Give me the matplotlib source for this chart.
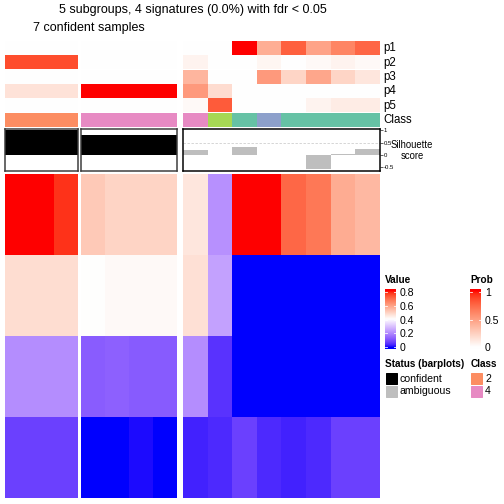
import numpy as np
import matplotlib
matplotlib.use('Agg')
import matplotlib.pyplot as plt
from matplotlib.colors import ListedColormap, Normalize, to_rgb
from matplotlib.patches import Rectangle

plt.rcParams['font.family'] = ['Liberation Sans', 'DejaVu Sans']

W = H = 504

# ---- data ----
group_sizes = [3, 4, 8]

# signature values (4 rows x 15 samples)
sig1 = [0.85, 0.85, 0.77, 0.51, 0.49, 0.49, 0.49, 0.45, 0.21, 0.85, 0.85, 0.70, 0.67, 0.57, 0.545]
sig2 = [0.47, 0.47, 0.47, 0.401, 0.41, 0.41, 0.41, 0.465, 0.24, 0.0, 0.0, 0.0, 0.0, 0.0, 0.0]
sig3 = [0.205, 0.205, 0.205, 0.12, 0.125, 0.118, 0.118, 0.205, 0.05, 0.0, 0.0, 0.0, 0.0, 0.0, 0.0]
sig4 = [0.075, 0.075, 0.075, 0.0, 0.0, 0.008, 0.0, 0.03, 0.038, 0.075, 0.038, 0.03, 0.04, 0.075, 0.075]

prob_names = ['p1', 'p2', 'p3', 'p4', 'p5']
p1 = [0, 0, 0, 0, 0, 0, 0, 0, 0, 1.0, 0.42, 0.78, 0.47, 0.62, 0.75]
p2 = [0.85, 0.85, 0.85, 0, 0, 0, 0, 0.06, 0, 0, 0.05, 0, 0.03, 0.06, 0.03]
p3 = [0, 0, 0, 0, 0, 0, 0, 0.38, 0, 0, 0.52, 0.22, 0.46, 0.22, 0.13]
p4 = [0.15, 0.15, 0.15, 1, 1, 1, 1, 0.52, 0.18, 0, 0, 0, 0, 0, 0]
p5 = [0, 0, 0, 0, 0, 0, 0, 0.03, 0.8, 0, 0, 0, 0.06, 0.1, 0.1]

classes = ['2', '2', '2', '4', '4', '4', '4', '4', '5', '1', '3', '1', '1', '1', '1']
class_colors = {'1': '#66C2A5', '2': '#FC8D62', '3': '#8DA0CB', '4': '#E78AC3', '5': '#A6D854'}

silhouette = [1.0, 1.0, 1.0, 0.82, 0.82, 0.82, 0.82, 0.2, 0.0, 0.32, 0.0, -0.015, -0.55, 0.03, 0.24]
confident = [True] * 7 + [False] * 8

title = '5 subgroups, 4 signatures (0.0%) with fdr < 0.05'
subtitle = '7 confident samples'


# ---- colour ramps interpolated in LAB like colorRamp2 ----
M = np.array([[0.4124, 0.3576, 0.1805],
              [0.2126, 0.7152, 0.0722],
              [0.0193, 0.1192, 0.9505]])
WHITE = np.array([0.95047, 1.0, 1.08883])


def to_lab(c):
    rgb = np.array(to_rgb(c))
    lin = np.where(rgb <= 0.04045, rgb / 12.92, ((rgb + 0.055) / 1.055) ** 2.4)
    xyz = M @ lin / WHITE
    f = np.where(xyz > 0.008856, np.cbrt(xyz), 7.787 * xyz + 16 / 116)
    return np.array([116 * f[1] - 16, 500 * (f[0] - f[1]), 200 * (f[1] - f[2])])


def from_lab(lab):
    fy = (lab[:, 0] + 16) / 116
    fx = fy + lab[:, 1] / 500
    fz = fy - lab[:, 2] / 200
    f = np.stack([fx, fy, fz], -1)
    xyz = np.where(f ** 3 > 0.008856, f ** 3, (f - 16 / 116) / 7.787) * WHITE
    lin = np.clip(xyz @ np.linalg.inv(M).T, 0, 1)
    rgb = np.where(lin <= 0.0031308, 12.92 * lin, 1.055 * lin ** (1 / 2.4) - 0.055)
    return np.clip(rgb, 0, 1)


def lab_cmap(stops, colors, n=256):
    t = np.linspace(0, 1, n)
    labs = np.array([to_lab(c) for c in colors])
    out = np.stack([np.interp(t, stops, labs[:, k]) for k in range(3)], -1)
    return ListedColormap(from_lab(out))


value_cmap = lab_cmap([0, 0.5, 1], ['blue', 'white', 'red'])
value_norm = Normalize(0, 0.8)
prob_cmap = lab_cmap([0, 1], ['white', 'red'])
prob_norm = Normalize(0, 1)

values = np.array([sig1, sig2, sig3, sig4])
probs = np.array([p1, p2, p3, p4, p5])
sil = np.array(silhouette)

fig = plt.figure(figsize=(W / 72, H / 72), dpi=72)


def add_ax(x0, y0, x1, y1):
    return fig.add_axes([x0 / W, 1 - y1 / H, (x1 - x0) / W, (y1 - y0) / H])


group_x = [(5, 78), (81, 177), (183, 380)]
starts = np.cumsum([0] + group_sizes)

row_top = 41.3
row_pitch = 14.35
row_h = 13.8

for g, (x0, x1) in enumerate(group_x):
    sl = slice(starts[g], starts[g + 1])
    n = group_sizes[g]

    # main heatmap
    ax = add_ax(x0, 174, x1, 498)
    ax.imshow(values[:, sl], cmap=value_cmap, norm=value_norm, aspect='auto',
              interpolation='nearest')
    ax.axis('off')

    # probability rows + class row
    ax = add_ax(x0, row_top, x1, row_top + 5 * row_pitch + row_h)
    ax.set_xlim(0, n)
    ax.set_ylim(row_top + 5 * row_pitch + row_h, row_top)
    for i in range(5):
        top = row_top + i * row_pitch
        ax.imshow(probs[i:i + 1, sl], cmap=prob_cmap, norm=prob_norm,
                  extent=(0, n, top + row_h, top), aspect='auto', interpolation='nearest')
    top = row_top + 5 * row_pitch
    crgb = np.array([[to_rgb(class_colors[c]) for c in classes[sl]]])
    ax.imshow(crgb, extent=(0, n, top + row_h, top), aspect='auto', interpolation='nearest')
    ax.axis('off')

    # silhouette barplot
    ax = add_ax(x0, 128.5, x1, 170.5)
    cols = ['black' if c else '#BEBEBE' for c in confident[sl]]
    ax.axhline(0.5, color='#CCCCCC', lw=0.8, ls=(0, (3, 2)), zorder=0)
    ax.bar(np.arange(n) + 0.5, sil[sl], width=1, color=cols, zorder=1)
    ax.set_xlim(0, n)
    ax.set_ylim(-0.63, 1.07)
    ax.set_xticks([])
    for s in ax.spines.values():
        s.set_linewidth(1.5)
        s.set_color('#3a3a3a' if g < 2 else 'black')
    if g == 2:
        ax.yaxis.tick_right()
        ax.set_yticks([-0.5, 0, 0.5, 1])
        ax.set_yticklabels(['-0.5', '0', '0.5', '1'])
        ax.tick_params(axis='y', length=2.5, width=0.6, pad=1.5, labelsize=6)
    else:
        ax.set_yticks([])

# row labels
for i, name in enumerate(prob_names + ['Class']):
    fig.text(383 / W, 1 - (row_top + i * row_pitch + row_h / 2) / H, name,
             ha='left', va='center', fontsize=11.5)
fig.text(412 / W, 1 - 145 / H, 'Silhouette', ha='center', va='center', fontsize=9.5)
fig.text(412 / W, 1 - 156 / H, 'score', ha='center', va='center', fontsize=9.5)

# titles
fig.text(192.5 / W, 1 - 10 / H, title, ha='center', va='center', fontsize=12.5)
fig.text(33 / W, 1 - 28 / H, subtitle, ha='left', va='center', fontsize=12.5)


# colour bar legends
def color_legend(x0, lo, hi, ticks, labels, cmap, norm, name):
    cax = add_ax(x0, 289, x0 + 11, 349)
    grad = np.linspace(lo, hi, 200)[:, None]
    cax.imshow(grad, cmap=cmap, norm=norm, extent=(0, 1, lo, hi), origin='lower',
               aspect='auto', interpolation='bilinear')
    cax.set_xlim(0, 1)
    cax.set_ylim(lo, hi)
    for v in ticks:
        cax.plot([0, 0.2], [v, v], color='white', lw=0.8)
        cax.plot([0.8, 1], [v, v], color='white', lw=0.8)
    cax.set_xticks([])
    cax.yaxis.tick_right()
    cax.set_yticks(ticks)
    cax.set_yticklabels(labels)
    cax.tick_params(axis='y', length=0, pad=4, labelsize=10.5)
    for s in cax.spines.values():
        s.set_visible(False)
    fig.text(x0 / W, 1 - 280 / H, name, ha='left', va='center', fontsize=10, fontweight='bold')


color_legend(385, -0.024, 0.839, [0, 0.2, 0.4, 0.6, 0.8], ['0', '0.2', '0.4', '0.6', '0.8'],
             value_cmap, value_norm, 'Value')
color_legend(470, -0.031, 1.049, [0, 0.5, 1], ['0', '0.5', '1'], prob_cmap, prob_norm, 'Prob')

# discrete legends
over = fig.add_axes([0, 0, 1, 1])
over.set_xlim(0, W)
over.set_ylim(H, 0)
over.axis('off')
fig.text(385 / W, 1 - 364 / H, 'Status (barplots)', ha='left', va='center', fontsize=10,
         fontweight='bold')
fig.text(471 / W, 1 - 364 / H, 'Class', ha='left', va='center', fontsize=10, fontweight='bold')
status_items = [('confident', 'black'), ('ambiguous', '#BEBEBE')]
class_items = [('2', class_colors['2']), ('4', class_colors['4'])]
for i, ((lab, col), (clab, ccol)) in enumerate(zip(status_items, class_items)):
    y = 373 + i * 12.5
    over.add_patch(Rectangle((386, y), 11, 11, color=col))
    over.text(400, y + 5.5, lab, ha='left', va='center', fontsize=10.5)
    over.add_patch(Rectangle((471, y), 11, 11, color=ccol))
    over.text(485, y + 5.5, clab, ha='left', va='center', fontsize=10.5)

fig.savefig('out.png', dpi=72)
